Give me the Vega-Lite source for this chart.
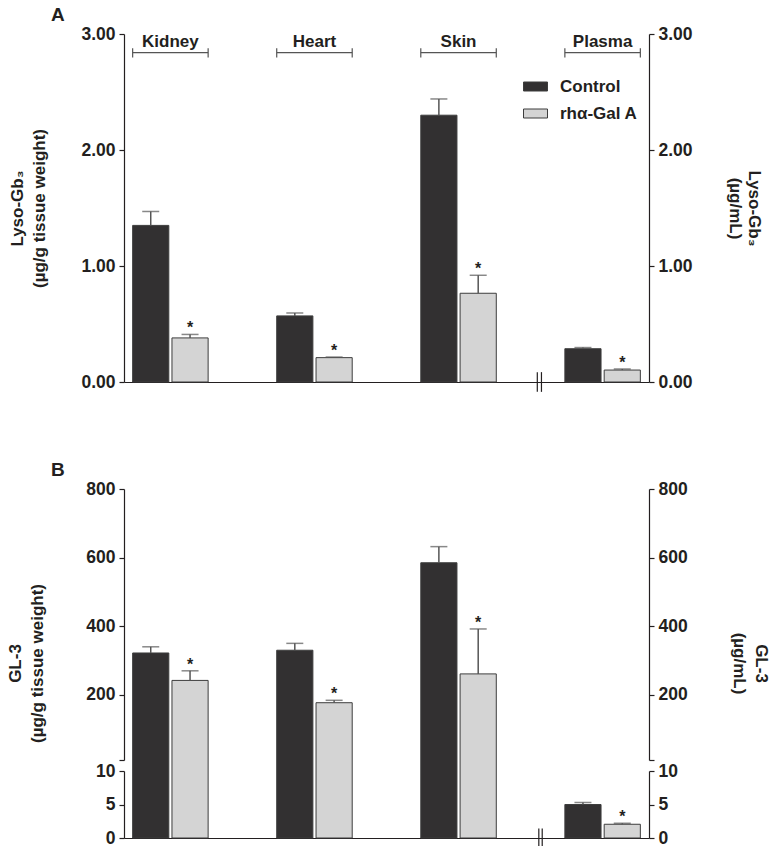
{
  "$schema": "https://vega.github.io/schema/vega-lite/v6.json",
  "background": "white",
  "padding": {"left": 6, "top": 6, "right": 5, "bottom": 5},
  "config": {
    "font": "Liberation Sans",
    "view": {"stroke": null},
    "axis": {"grid": false, "labelFont": "Liberation Sans", "labelFontWeight": "bold", "labelFontSize": 17.5, "labelColor": "#231f20", "titleFont": "Liberation Sans", "titleFontWeight": "bold", "titleFontSize": 17, "titleColor": "#231f20", "domainColor": "#231f20", "tickColor": "#231f20", "domainWidth": 1.2, "tickWidth": 1.2, "tickSize": 5, "labelPadding": 4, "titleLineHeight": 22},
    "text": {"font": "Liberation Sans", "color": "#231f20"}
  },
  "datasets": {
    "lyso": [
      {"organ": "Kidney", "grp": "Control", "value": 1.35, "err": 1.47, "sig": false},
      {"organ": "Kidney", "grp": "rhα-Gal A", "value": 0.38, "err": 0.41, "sig": true},
      {"organ": "Heart", "grp": "Control", "value": 0.57, "err": 0.595, "sig": false},
      {"organ": "Heart", "grp": "rhα-Gal A", "value": 0.21, "err": 0.215, "sig": true},
      {"organ": "Skin", "grp": "Control", "value": 2.30, "err": 2.44, "sig": false},
      {"organ": "Skin", "grp": "rhα-Gal A", "value": 0.765, "err": 0.92, "sig": true},
      {"organ": "Plasma", "grp": "Control", "value": 0.287, "err": 0.297, "sig": false},
      {"organ": "Plasma", "grp": "rhα-Gal A", "value": 0.103, "err": 0.112, "sig": true}
    ],
    "gl3": [
      {"organ": "Kidney", "grp": "Control", "value": 322, "err": 340, "sig": false},
      {"organ": "Kidney", "grp": "rhα-Gal A", "value": 242, "err": 270, "sig": true},
      {"organ": "Heart", "grp": "Control", "value": 330, "err": 350, "sig": false},
      {"organ": "Heart", "grp": "rhα-Gal A", "value": 177, "err": 184, "sig": true},
      {"organ": "Skin", "grp": "Control", "value": 585, "err": 632, "sig": false},
      {"organ": "Skin", "grp": "rhα-Gal A", "value": 261, "err": 392, "sig": true},
      {"organ": "Plasma", "grp": "Control", "value": 5.0, "err": 5.3, "sig": false},
      {"organ": "Plasma", "grp": "rhα-Gal A", "value": 2.05, "err": 2.2, "sig": true}
    ],
    "organs": [
      {"organ": "Kidney"}, {"organ": "Heart"}, {"organ": "Skin"}, {"organ": "Plasma"}
    ]
  },
  "resolve": {"scale": {"color": "independent"}},
  "spacing": 68,
  "vconcat": [
    {
      "width": 525,
      "height": 348,
      "title": {"text": "A", "anchor": "start", "frame": "group", "dx": -73, "offset": 0, "fontSize": 19, "fontWeight": "bold", "font": "Liberation Sans", "color": "#231f20"},
      "data": {"name": "lyso"},
      "resolve": {"scale": {"y": "independent"}, "axis": {"y": "independent"}},
      "layer": [
        {
          "layer": [
            {
              "transform": [{"filter": "datum.organ !== 'Plasma'"}],
              "mark": {"type": "bar", "stroke": "#3d3d3d", "strokeWidth": 1},
              "encoding": {
                "x": {"field": "organ", "type": "nominal", "scale": {"domain": ["Kidney", "Heart", "Skin", "Plasma"], "paddingInner": 0.476, "paddingOuter": 0.06}, "axis": {"labels": false, "ticks": false, "title": null, "domainColor": "#231f20"}},
                "xOffset": {"field": "grp", "type": "nominal", "scale": {"domain": ["Control", "rhα-Gal A"], "paddingInner": 0.08, "paddingOuter": 0}},
                "y": {"field": "value", "type": "quantitative", "scale": {"domain": [0, 3], "nice": false, "zero": false}, "axis": {"orient": "left", "values": [0, 1, 2, 3], "format": ".2f", "title": ["Lyso-Gb₃", "(µg/g tissue weight)"], "titlePadding": 32}},
                "color": {"field": "grp", "type": "nominal", "scale": {"domain": ["Control", "rhα-Gal A"], "range": ["#323031", "#d4d4d4"]}, "legend": {"orient": "none", "legendX": 401, "legendY": 42, "title": null, "symbolType": "M-1.2,-0.45H1.2V0.45H-1.2Z", "symbolSize": 400, "symbolStrokeColor": "#555555", "symbolStrokeWidth": 1, "symbolOpacity": 1, "labelFont": "Liberation Sans", "labelFontSize": 17, "labelFontWeight": "bold", "labelColor": "#231f20", "labelOffset": 14, "rowPadding": 8}}
              }
            },
            {
              "transform": [{"filter": "datum.organ !== 'Plasma'"}],
              "mark": {"type": "rule", "color": "#555555", "strokeWidth": 1.5},
              "encoding": {
                "x": {"field": "organ", "type": "nominal", "axis": {"labels": false, "ticks": false, "title": null, "domainColor": "#231f20"}},
                "xOffset": {"field": "grp", "type": "nominal"},
                "y": {"field": "value", "type": "quantitative", "axis": {"orient": "left", "values": [0, 1, 2, 3], "format": ".2f", "title": ["Lyso-Gb₃", "(µg/g tissue weight)"], "titlePadding": 32}},
                "y2": {"field": "err"}
              }
            },
            {
              "transform": [{"filter": "datum.organ !== 'Plasma'"}],
              "mark": {"type": "tick", "color": "#555555", "thickness": 1.5, "size": 17, "orient": "horizontal"},
              "encoding": {
                "x": {"field": "organ", "type": "nominal", "axis": {"labels": false, "ticks": false, "title": null, "domainColor": "#231f20"}},
                "xOffset": {"field": "grp", "type": "nominal"},
                "y": {"field": "err", "type": "quantitative", "axis": {"orient": "left", "values": [0, 1, 2, 3], "format": ".2f", "title": ["Lyso-Gb₃", "(µg/g tissue weight)"], "titlePadding": 32}}
              }
            },
            {
              "transform": [{"filter": "datum.organ !== 'Plasma' && datum.sig"}],
              "mark": {"type": "text", "text": "*", "baseline": "alphabetic", "dy": -1, "fontSize": 16, "fontWeight": "bold"},
              "encoding": {
                "x": {"field": "organ", "type": "nominal", "axis": {"labels": false, "ticks": false, "title": null, "domainColor": "#231f20"}},
                "xOffset": {"field": "grp", "type": "nominal"},
                "y": {"field": "err", "type": "quantitative", "axis": {"orient": "left", "values": [0, 1, 2, 3], "format": ".2f", "title": ["Lyso-Gb₃", "(µg/g tissue weight)"], "titlePadding": 32}}
              }
            },
            {
              "data": {"name": "organs"},
              "mark": {"type": "bar", "color": "#555555"},
              "encoding": {
                "x": {"field": "organ", "type": "nominal", "axis": {"labels": false, "ticks": false, "title": null, "domainColor": "#231f20"}},
                "y": {"datum": 2.845, "type": "quantitative", "axis": {"orient": "left", "values": [0, 1, 2, 3], "format": ".2f", "title": ["Lyso-Gb₃", "(µg/g tissue weight)"], "titlePadding": 32}},
                "y2": {"datum": 2.834}
              }
            },
            {
              "data": {"name": "organs"},
              "mark": {"type": "rule", "color": "#555555", "strokeWidth": 1.2},
              "encoding": {
                "x": {"field": "organ", "type": "nominal", "bandPosition": 0, "axis": {"labels": false, "ticks": false, "title": null, "domainColor": "#231f20"}},
                "y": {"datum": 2.798, "type": "quantitative", "axis": {"orient": "left", "values": [0, 1, 2, 3], "format": ".2f", "title": ["Lyso-Gb₃", "(µg/g tissue weight)"], "titlePadding": 32}},
                "y2": {"datum": 2.877}
              }
            },
            {
              "data": {"name": "organs"},
              "mark": {"type": "rule", "color": "#555555", "strokeWidth": 1.2},
              "encoding": {
                "x": {"field": "organ", "type": "nominal", "bandPosition": 1, "axis": {"labels": false, "ticks": false, "title": null, "domainColor": "#231f20"}},
                "y": {"datum": 2.798, "type": "quantitative", "axis": {"orient": "left", "values": [0, 1, 2, 3], "format": ".2f", "title": ["Lyso-Gb₃", "(µg/g tissue weight)"], "titlePadding": 32}},
                "y2": {"datum": 2.877}
              }
            },
            {
              "data": {"name": "organs"},
              "mark": {"type": "text", "baseline": "alphabetic", "fontSize": 17, "fontWeight": "bold"},
              "encoding": {
                "x": {"field": "organ", "type": "nominal", "axis": {"labels": false, "ticks": false, "title": null, "domainColor": "#231f20"}},
                "y": {"datum": 2.89, "type": "quantitative", "axis": {"orient": "left", "values": [0, 1, 2, 3], "format": ".2f", "title": ["Lyso-Gb₃", "(µg/g tissue weight)"], "titlePadding": 32}},
                "text": {"field": "organ"}
              }
            },
            {
              "data": {"name": "organs"},
              "transform": [{"filter": "datum.organ === 'Plasma'"}],
              "mark": {"type": "rule", "color": "#231f20", "strokeWidth": 1.2},
              "encoding": {
                "x": {"field": "organ", "type": "nominal", "bandPosition": -0.365, "axis": {"labels": false, "ticks": false, "title": null, "domainColor": "#231f20"}},
                "y": {"datum": -0.085, "type": "quantitative", "axis": {"orient": "left", "values": [0, 1, 2, 3], "format": ".2f", "title": ["Lyso-Gb₃", "(µg/g tissue weight)"], "titlePadding": 32}},
                "y2": {"datum": 0.085}
              }
            },
            {
              "data": {"name": "organs"},
              "transform": [{"filter": "datum.organ === 'Plasma'"}],
              "mark": {"type": "rule", "color": "#231f20", "strokeWidth": 1.2},
              "encoding": {
                "x": {"field": "organ", "type": "nominal", "bandPosition": -0.31, "axis": {"labels": false, "ticks": false, "title": null, "domainColor": "#231f20"}},
                "y": {"datum": -0.085, "type": "quantitative", "axis": {"orient": "left", "values": [0, 1, 2, 3], "format": ".2f", "title": ["Lyso-Gb₃", "(µg/g tissue weight)"], "titlePadding": 32}},
                "y2": {"datum": 0.085}
              }
            }
          ]
        },
        {
          "transform": [{"filter": "datum.organ === 'Plasma'"}],
          "layer": [
            {
              "mark": {"type": "bar", "stroke": "#3d3d3d", "strokeWidth": 1},
              "encoding": {
                "x": {"field": "organ", "type": "nominal", "axis": {"labels": false, "ticks": false, "title": null, "domainColor": "#231f20"}},
                "xOffset": {"field": "grp", "type": "nominal"},
                "y": {"field": "value", "type": "quantitative", "scale": {"domain": [0, 3], "nice": false, "zero": false}, "axis": {"orient": "right", "values": [0, 1, 2, 3], "format": ".2f", "title": ["Lyso-Gb₃", "(µg/mL)"], "titlePadding": 33, "titleLineHeight": 19}},
                "color": {"field": "grp", "type": "nominal"}
              }
            },
            {
              "mark": {"type": "rule", "color": "#555555", "strokeWidth": 1.5},
              "encoding": {
                "x": {"field": "organ", "type": "nominal", "axis": {"labels": false, "ticks": false, "title": null, "domainColor": "#231f20"}},
                "xOffset": {"field": "grp", "type": "nominal"},
                "y": {"field": "value", "type": "quantitative", "axis": {"orient": "right", "values": [0, 1, 2, 3], "format": ".2f", "title": ["Lyso-Gb₃", "(µg/mL)"], "titlePadding": 33, "titleLineHeight": 19}},
                "y2": {"field": "err"}
              }
            },
            {
              "mark": {"type": "tick", "color": "#555555", "thickness": 1.5, "size": 17, "orient": "horizontal"},
              "encoding": {
                "x": {"field": "organ", "type": "nominal", "axis": {"labels": false, "ticks": false, "title": null, "domainColor": "#231f20"}},
                "xOffset": {"field": "grp", "type": "nominal"},
                "y": {"field": "err", "type": "quantitative", "axis": {"orient": "right", "values": [0, 1, 2, 3], "format": ".2f", "title": ["Lyso-Gb₃", "(µg/mL)"], "titlePadding": 33, "titleLineHeight": 19}}
              }
            },
            {
              "transform": [{"filter": "datum.sig"}],
              "mark": {"type": "text", "text": "*", "baseline": "alphabetic", "dy": -1, "fontSize": 16, "fontWeight": "bold"},
              "encoding": {
                "x": {"field": "organ", "type": "nominal", "axis": {"labels": false, "ticks": false, "title": null, "domainColor": "#231f20"}},
                "xOffset": {"field": "grp", "type": "nominal"},
                "y": {"field": "err", "type": "quantitative", "axis": {"orient": "right", "values": [0, 1, 2, 3], "format": ".2f", "title": ["Lyso-Gb₃", "(µg/mL)"], "titlePadding": 33, "titleLineHeight": 19}}
              }
            }
          ]
        }
      ]
    },
    {
      "width": 525,
      "height": 349,
      "title": {"text": "B", "anchor": "start", "frame": "group", "dx": -73, "offset": 0, "fontSize": 19, "fontWeight": "bold", "font": "Liberation Sans", "color": "#231f20"},
      "data": {"name": "gl3"},
      "resolve": {"scale": {"y": "independent"}, "axis": {"y": "independent"}},
      "layer": [
        {
          "layer": [
            {
              "mark": {"type": "bar", "stroke": "#3d3d3d", "strokeWidth": 1},
              "encoding": {
                "x": {"field": "organ", "type": "nominal", "scale": {"domain": ["Kidney", "Heart", "Skin", "Plasma"], "paddingInner": 0.476, "paddingOuter": 0.06}, "axis": {"labels": false, "ticks": false, "title": null, "domainColor": "#231f20"}},
                "xOffset": {"field": "grp", "type": "nominal", "scale": {"domain": ["Control", "rhα-Gal A"], "paddingInner": 0.08, "paddingOuter": 0}},
                "y": {"field": "value", "type": "quantitative", "scale": {"domain": [0, 10, 10, 800], "range": [349, 282, 271, 0], "nice": false, "zero": false}, "axis": null},
                "color": {"field": "grp", "type": "nominal", "scale": {"domain": ["Control", "rhα-Gal A"], "range": ["#323031", "#d4d4d4"]}, "legend": null}
              }
            },
            {
              "mark": {"type": "rule", "color": "#555555", "strokeWidth": 1.5},
              "encoding": {
                "x": {"field": "organ", "type": "nominal", "axis": {"labels": false, "ticks": false, "title": null, "domainColor": "#231f20"}},
                "xOffset": {"field": "grp", "type": "nominal"},
                "y": {"field": "value", "type": "quantitative", "axis": null},
                "y2": {"field": "err"}
              }
            },
            {
              "mark": {"type": "tick", "color": "#555555", "thickness": 1.5, "size": 17, "orient": "horizontal"},
              "encoding": {
                "x": {"field": "organ", "type": "nominal", "axis": {"labels": false, "ticks": false, "title": null, "domainColor": "#231f20"}},
                "xOffset": {"field": "grp", "type": "nominal"},
                "y": {"field": "err", "type": "quantitative", "axis": null}
              }
            },
            {
              "transform": [{"filter": "datum.sig"}],
              "mark": {"type": "text", "text": "*", "baseline": "alphabetic", "dy": -1, "fontSize": 16, "fontWeight": "bold"},
              "encoding": {
                "x": {"field": "organ", "type": "nominal", "axis": {"labels": false, "ticks": false, "title": null, "domainColor": "#231f20"}},
                "xOffset": {"field": "grp", "type": "nominal"},
                "y": {"field": "err", "type": "quantitative", "axis": null}
              }
            },
            {
              "transform": [{"filter": "datum.organ === 'Plasma' && datum.grp === 'Control'"}],
              "mark": {"type": "rule", "color": "#231f20", "strokeWidth": 1.2},
              "encoding": {
                "x": {"field": "organ", "type": "nominal", "bandPosition": -0.345, "axis": {"labels": false, "ticks": false, "title": null, "domainColor": "#231f20"}},
                "y": {"datum": -1.2, "type": "quantitative", "axis": null},
                "y2": {"datum": 1.4}
              }
            },
            {
              "transform": [{"filter": "datum.organ === 'Plasma' && datum.grp === 'Control'"}],
              "mark": {"type": "rule", "color": "#231f20", "strokeWidth": 1.2},
              "encoding": {
                "x": {"field": "organ", "type": "nominal", "bandPosition": -0.30, "axis": {"labels": false, "ticks": false, "title": null, "domainColor": "#231f20"}},
                "y": {"datum": -1.2, "type": "quantitative", "axis": null},
                "y2": {"datum": 1.4}
              }
            }
          ]
        },
        {
          "mark": {"type": "rule", "opacity": 0},
          "encoding": {
            "y": {"datum": 800, "type": "quantitative", "scale": {"domain": [10, 800], "range": [271, 0], "nice": false, "zero": false}, "axis": {"orient": "left", "values": [10, 200, 400, 600, 800], "labelExpr": "datum.value === 10 ? '' : datum.label", "title": ["GL-3", "(µg/g tissue weight)"], "titlePadding": 39, "titleY": 174}}
          }
        },
        {
          "mark": {"type": "rule", "opacity": 0},
          "encoding": {
            "y": {"datum": 0, "type": "quantitative", "scale": {"domain": [0, 10], "range": [349, 282], "nice": false, "zero": false}, "axis": {"orient": "left", "values": [0, 5, 10], "title": null}}
          }
        },
        {
          "mark": {"type": "rule", "opacity": 0},
          "encoding": {
            "y": {"datum": 800, "type": "quantitative", "scale": {"domain": [10, 800], "range": [271, 0], "nice": false, "zero": false}, "axis": {"orient": "right", "values": [10, 200, 400, 600, 800], "labelExpr": "datum.value === 10 ? '' : datum.label", "title": ["GL-3", "(µg/mL)"], "titlePadding": 42, "titleY": 174}}
          }
        },
        {
          "mark": {"type": "rule", "opacity": 0},
          "encoding": {
            "y": {"datum": 0, "type": "quantitative", "scale": {"domain": [0, 10], "range": [349, 282], "nice": false, "zero": false}, "axis": {"orient": "right", "values": [0, 5, 10], "title": null}}
          }
        }
      ]
    }
  ]
}
